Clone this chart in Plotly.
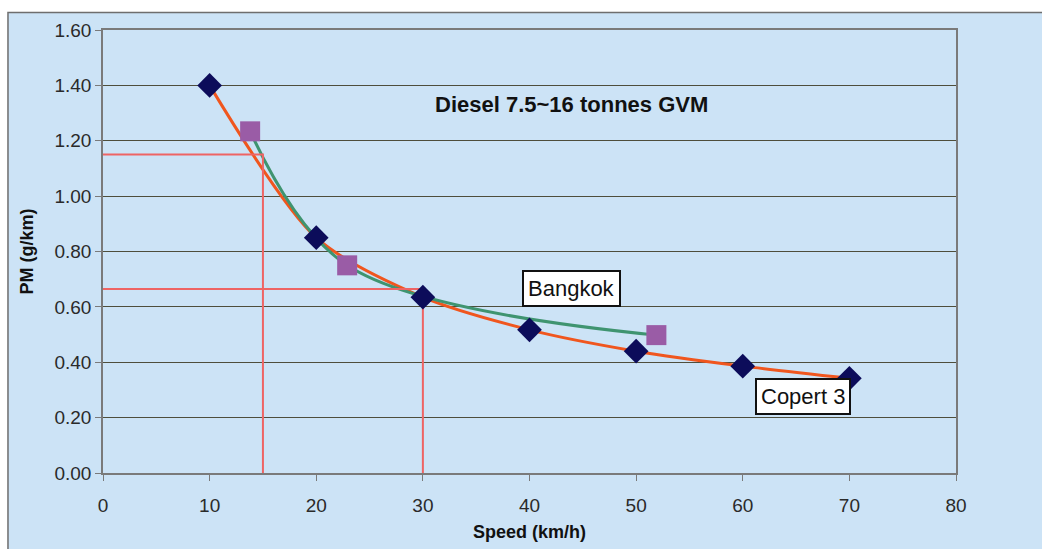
import plotly.graph_objects as go

# ---- data ----
copert_speed = [10, 20, 30, 40, 50, 60, 70]
copert_pm = [1.40, 0.85, 0.635, 0.517, 0.44, 0.386, 0.342]

bangkok_speed = [13.8, 22.9, 51.9]
bangkok_pm = [1.234, 0.75, 0.498]

ref_speed = [15, 30]
ref_pm = [1.15, 0.665]

x_ticks = [0, 10, 20, 30, 40, 50, 60, 70, 80]
y_ticks = [0.0, 0.2, 0.4, 0.6, 0.8, 1.0, 1.2, 1.4, 1.6]

title_text = "Diesel 7.5~16 tonnes GVM"
x_title = "Speed (km/h)"
y_title = "PM (g/km)"

FONT = "Arial, Liberation Sans, Helvetica, sans-serif"

fig = go.Figure()

# smooth curves
fig.add_trace(go.Scatter(x=copert_speed, y=copert_pm, mode="lines",
                         line=dict(color="#f0561e", width=3, shape="spline", smoothing=0.8),
                         hoverinfo="skip", showlegend=False))
fig.add_trace(go.Scatter(x=bangkok_speed, y=bangkok_pm, mode="lines",
                         line=dict(color="#3f9470", width=3, shape="spline", smoothing=1.0),
                         hoverinfo="skip", showlegend=False))

# reference guide lines
for sx, py in zip(ref_speed, ref_pm):
    fig.add_trace(go.Scatter(x=[0, sx, sx], y=[py, py, 0], mode="lines",
                             line=dict(color="#ee6464", width=2),
                             hoverinfo="skip", showlegend=False))

# markers
fig.add_trace(go.Scatter(x=copert_speed, y=copert_pm, mode="markers", name="Copert 3",
                         marker=dict(symbol="diamond", size=19, color="#0c0c5a",
                                     line=dict(width=0)),
                         showlegend=False))
fig.add_trace(go.Scatter(x=bangkok_speed, y=bangkok_pm, mode="markers", name="Bangkok",
                         marker=dict(symbol="square", size=20, color="#9a5ca6",
                                     line=dict(width=0)),
                         showlegend=False))

axis_common = dict(
    showline=True, linecolor="#7a7a7a", linewidth=1.5, mirror=True,
    ticks="outside", ticklen=6, tickcolor="#7a7a7a", tickwidth=1,
    tickfont=dict(family=FONT, size=19, color="#2a2a2a"),
    zeroline=False,
)

fig.update_xaxes(range=[0, 80], tickvals=x_ticks, ticktext=[str(v) for v in x_ticks],
                 showgrid=False, ticklabelstandoff=8, **axis_common)
fig.update_yaxes(range=[0, 1.6], tickvals=y_ticks, ticktext=[f"{v:.2f}" for v in y_ticks],
                 showgrid=True, gridcolor="#4e4e3c", gridwidth=1, **axis_common)

annotations = [
    dict(x=43.9, y=1.331, xref="x", yref="y", text=f"<b>{title_text}</b>", showarrow=False,
         font=dict(family=FONT, size=22, color="#111111")),
    dict(x=43.9, y=0.667, xref="x", yref="y", text="Bangkok", showarrow=False,
         font=dict(family=FONT, size=22, color="#111111"),
         bgcolor="white", bordercolor="#111111", borderwidth=2, borderpad=4),
    dict(x=65.65, y=0.276, xref="x", yref="y", text="Copert 3", showarrow=False,
         font=dict(family=FONT, size=22, color="#111111"),
         bgcolor="white", bordercolor="#111111", borderwidth=2, borderpad=4),
    dict(x=0.5, y=-0.133, xref="paper", yref="paper", text=f"<b>{x_title}</b>", showarrow=False,
         font=dict(family=FONT, size=18, color="#111111"), yanchor="middle"),
    dict(x=-0.0891, y=0.5, xref="paper", yref="paper", text=f"<b>{y_title}</b>", showarrow=False,
         textangle=-90, font=dict(family=FONT, size=18, color="#111111"), xanchor="center"),
]

shapes = [
    dict(type="rect", xref="paper", yref="paper", x0=-0.1114, x1=1.25, y0=-0.35, y1=1.0395,
         fillcolor="#cce3f6", line=dict(color="#6e6e6e", width=1.5), layer="below"),
]

fig.update_layout(
    width=1042, height=549,
    margin=dict(l=103, r=86, t=29.5, b=76),
    paper_bgcolor="white",
    plot_bgcolor="#f5f3a2",
    annotations=annotations,
    shapes=shapes,
    showlegend=False,
)

fig.write_html("out.html")
